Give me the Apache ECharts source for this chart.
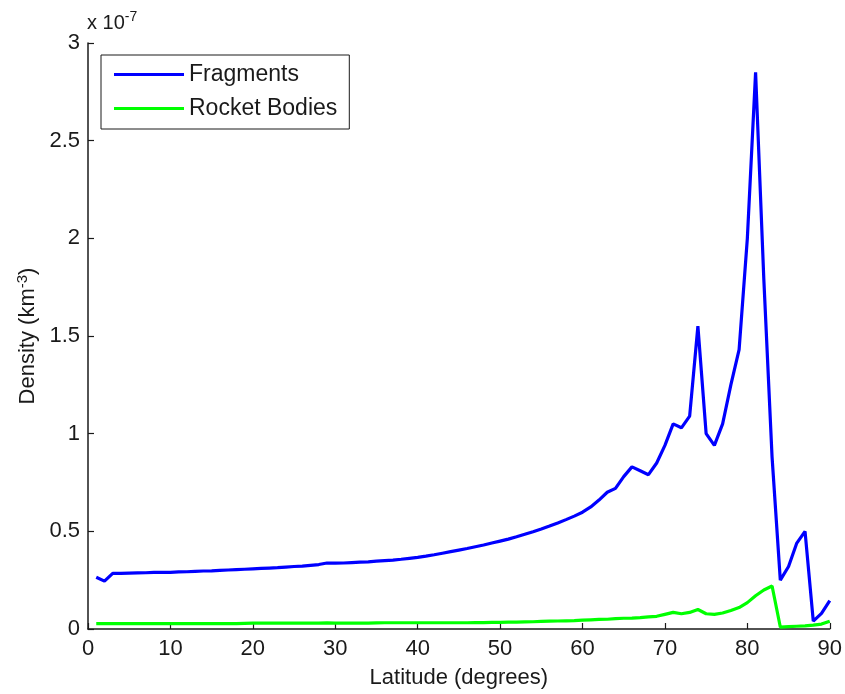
<!DOCTYPE html>
<html>
<head>
<meta charset="utf-8">
<script src="https://cdn.jsdelivr.net/npm/echarts@6/dist/echarts.min.js"></script>
<style>
  html, body { margin: 0; padding: 0; background: #fff; }
  #chart { width: 845px; height: 694px; }
</style>
</head>
<body>
<div id="chart"></div>
<script>
// Latitude bins (degrees)
const latitudes = [
  1, 2, 3, 4, 5, 6, 7, 8, 9, 10,
  11, 12, 13, 14, 15, 16, 17, 18, 19, 20,
  21, 22, 23, 24, 25, 26, 27, 28, 29, 30,
  31, 32, 33, 34, 35, 36, 37, 38, 39, 40,
  41, 42, 43, 44, 45, 46, 47, 48, 49, 50,
  51, 52, 53, 54, 55, 56, 57, 58, 59, 60,
  61, 62, 63, 64, 65, 66, 67, 68, 69, 70,
  71, 72, 73, 74, 75, 76, 77, 78, 79, 80,
  81, 82, 83, 84, 85, 86, 87, 88, 89, 90
];

// Spatial density, in units of 1e-7 km^-3
const fragments = [
  0.265, 0.245, 0.285, 0.285, 0.286, 0.287, 0.288, 0.290, 0.290, 0.290,
  0.292, 0.293, 0.295, 0.297, 0.298, 0.300, 0.302, 0.304, 0.306, 0.308,
  0.310, 0.312, 0.314, 0.317, 0.320, 0.322, 0.326, 0.330, 0.338, 0.337,
  0.338, 0.340, 0.342, 0.344, 0.347, 0.350, 0.353, 0.357, 0.362, 0.367,
  0.373, 0.380, 0.388, 0.396, 0.404, 0.412, 0.421, 0.430, 0.440, 0.450,
  0.460, 0.472, 0.485, 0.498, 0.512, 0.527, 0.543, 0.560, 0.578, 0.598,
  0.625, 0.660, 0.700, 0.720, 0.780, 0.830, 0.810, 0.790, 0.850, 0.940,
  1.050, 1.030, 1.090, 1.550, 1.000, 0.940, 1.050, 1.250, 1.430, 2.000,
  2.850, 1.790, 0.880, 0.250, 0.320, 0.440, 0.500, 0.040, 0.080, 0.145
];

const rocketBodies = [
  0.028, 0.028, 0.028, 0.028, 0.028, 0.028, 0.028, 0.028, 0.028, 0.028,
  0.028, 0.028, 0.028, 0.028, 0.028, 0.028, 0.028, 0.028, 0.029, 0.030,
  0.030, 0.030, 0.030, 0.030, 0.030, 0.030, 0.030, 0.030, 0.031, 0.030,
  0.030, 0.030, 0.030, 0.030, 0.031, 0.032, 0.032, 0.032, 0.032, 0.032,
  0.032, 0.032, 0.032, 0.032, 0.032, 0.032, 0.033, 0.033, 0.034, 0.034,
  0.035, 0.035, 0.036, 0.037, 0.039, 0.040, 0.041, 0.042, 0.043, 0.045,
  0.047, 0.049, 0.050, 0.053, 0.055, 0.056, 0.058, 0.062, 0.065, 0.075,
  0.085, 0.078, 0.085, 0.100, 0.078, 0.075, 0.082, 0.095, 0.110, 0.135,
  0.170, 0.200, 0.220, 0.010, 0.012, 0.014, 0.016, 0.020, 0.025, 0.040
];

const xTicks = { min: 0, max: 90, step: 10 };
const yTicks = { min: 0, max: 3, step: 0.5 };

const FONT = '"Liberation Sans", Arial, sans-serif';
const INK = '#1a1a1a';
const FS = 22;

const chart = echarts.init(document.getElementById('chart'), null, { renderer: 'canvas' });

const pairs = (xs, ys) => xs.map((x, i) => [x, ys[i]]);

chart.setOption({
  animation: false,
  backgroundColor: '#ffffff',
  grid: { left: 88, right: 9, top: 43, bottom: 64, containLabel: false },
  legend: {
    orient: 'vertical',
    left: 101,
    top: 55,
    padding: [8, 12, 9, 13],
    icon: 'rect',
    itemWidth: 70,
    itemHeight: 3,
    itemGap: 11,
    borderColor: INK,
    borderWidth: 1,
    borderRadius: 0,
    backgroundColor: '#ffffff',
    textStyle: { fontFamily: FONT, fontSize: 23, color: INK, lineHeight: 22 },
    data: ['Fragments', 'Rocket Bodies']
  },
  xAxis: {
    type: 'value',
    min: xTicks.min,
    max: xTicks.max,
    interval: xTicks.step,
    name: 'Latitude (degrees)',
    nameLocation: 'middle',
    nameGap: 38,
    nameTextStyle: { fontFamily: FONT, fontSize: FS, color: INK },
    axisLine: { show: true, onZero: false, lineStyle: { color: INK, width: 1.5 } },
    axisTick: { show: true, inside: true, length: 6, lineStyle: { color: INK, width: 1.2 } },
    axisLabel: { fontFamily: FONT, fontSize: FS, color: INK, margin: 9 },
    splitLine: { show: false }
  },
  yAxis: {
    type: 'value',
    min: yTicks.min,
    max: yTicks.max,
    interval: yTicks.step,
    name: 'Density (km{sup|-3})',
    nameLocation: 'middle',
    nameGap: 48,
    nameRotate: 90,
    nameTextStyle: {
      fontFamily: FONT, fontSize: FS, color: INK,
      rich: { sup: { fontFamily: FONT, fontSize: 15, color: INK, verticalAlign: 'top', padding: [0, 0, 9, 0] } }
    },
    axisLine: { show: true, lineStyle: { color: INK, width: 1.5 } },
    axisTick: { show: true, inside: true, length: 6, lineStyle: { color: INK, width: 1.2 } },
    axisLabel: { fontFamily: FONT, fontSize: FS, color: INK, margin: 8 },
    splitLine: { show: false }
  },
  graphic: [{
    type: 'text',
    left: 87,
    top: 10,
    style: {
      text: 'x 10{sup|-7}',
      fontFamily: FONT,
      fontSize: 20,
      fill: INK,
      rich: { sup: { fontFamily: FONT, fontSize: 14, fill: INK, padding: [0, 0, 12, 0] } }
    }
  }],
  series: [
    {
      name: 'Fragments',
      type: 'line',
      data: pairs(latitudes, fragments),
      symbol: 'none',
      color: '#0000ff',
      lineStyle: { color: '#0000ff', width: 3.2 },
      z: 3
    },
    {
      name: 'Rocket Bodies',
      type: 'line',
      data: pairs(latitudes, rocketBodies),
      symbol: 'none',
      color: '#00ff00',
      lineStyle: { color: '#00ff00', width: 3.2 },
      z: 2
    }
  ]
});
</script>
</body>
</html>
